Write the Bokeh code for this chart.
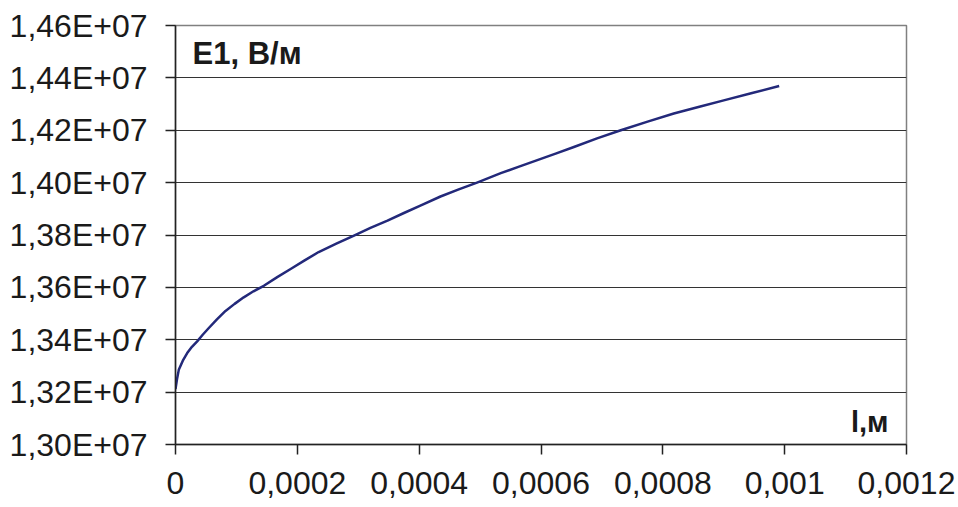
from bokeh.plotting import figure
from bokeh.embed import file_html
from bokeh.resources import INLINE
from bokeh.models import (FixedTicker, CustomJSTickFormatter, Label, Range1d)

# data (length l in m, field E1 in V/m)
l_m = [0, 0.0000025, 0.0000054, 0.000012, 0.0000192, 0.000027, 0.0000356,
       0.000045, 0.0000547, 0.000068, 0.0000821, 0.000097, 0.000112, 0.000128,
       0.000145, 0.000167, 0.000189, 0.000212, 0.000235, 0.000264, 0.000293,
       0.00032, 0.000348, 0.000375, 0.000402, 0.000435, 0.000465, 0.000495,
       0.000534, 0.000564, 0.000594, 0.000624, 0.000654, 0.000692, 0.000731,
       0.000775, 0.000818, 0.00086, 0.0009, 0.000945, 0.000991]
e1 = [1.3212e7, 1.3250e7, 1.3285e7, 1.3320e7, 1.3349e7, 1.3373e7, 1.3394e7,
      1.3420e7, 1.3445e7, 1.3478e7, 1.3510e7, 1.3537e7, 1.3562e7, 1.3585e7,
      1.3606e7, 1.3639e7, 1.3670e7, 1.3703e7, 1.3735e7, 1.3767e7, 1.3798e7,
      1.3827e7, 1.3855e7, 1.3884e7, 1.3912e7, 1.3947e7, 1.3974e7, 1.4000e7,
      1.4036e7, 1.4061e7, 1.4086e7, 1.4111e7, 1.4136e7, 1.4169e7, 1.4200e7,
      1.4233e7, 1.4264e7, 1.4290e7, 1.4314e7, 1.4341e7, 1.4369e7]

x_ticks = [0, 0.0002, 0.0004, 0.0006, 0.0008, 0.001, 0.0012]
y_ticks = [1.30e7, 1.32e7, 1.34e7, 1.36e7, 1.38e7, 1.40e7, 1.42e7, 1.44e7, 1.46e7]

y_title = "E1, В/м"
x_title = "l,м"

FONT = "Liberation Sans"

p = figure(width=958, height=507, output_backend="svg", toolbar_location=None,
           x_range=Range1d(0, 0.0012), y_range=Range1d(1.30e7, 1.46e7),
           min_border_left=175, min_border_right=52, min_border_top=25,
           min_border_bottom=63)

p.line(l_m, e1, line_color="#23297a", line_width=2.5, line_join="round")

p.outline_line_color = "#808080"
p.outline_line_width = 1.5

# axes
for ax in (p.xaxis[0], p.yaxis[0]):
    ax.axis_line_color = "#222222"
    ax.axis_line_width = 1.5
    ax.major_tick_line_color = "#222222"
    ax.major_tick_line_width = 1.5
    ax.major_tick_out = 10
    ax.major_tick_in = 0
    ax.minor_tick_line_color = None
    ax.major_label_text_font = FONT
    ax.major_label_text_font_size = "32px"
    ax.major_label_text_color = "#1a1a1a"

p.xaxis.ticker = FixedTicker(ticks=x_ticks)
p.yaxis.ticker = FixedTicker(ticks=y_ticks)
p.xaxis.major_label_standoff = 17
p.yaxis.major_label_standoff = 18

p.yaxis.formatter = CustomJSTickFormatter(
    code="return (tick/1e7).toFixed(2).replace('.', ',') + 'E+07';")
p.xaxis.formatter = CustomJSTickFormatter(
    code="return parseFloat(tick.toFixed(6)).toString().replace('.', ',');")

p.xgrid.grid_line_color = None
p.ygrid.ticker = FixedTicker(ticks=y_ticks)
p.ygrid.grid_line_color = "#333333"
p.ygrid.grid_line_width = 1.2

p.add_layout(Label(x=17, y=391, x_units="screen", y_units="screen", text=y_title,
                   text_font=FONT, text_font_size="31px", text_font_style="bold",
                   text_baseline="middle", text_color="#1a1a1a"))
p.add_layout(Label(x=713, y=23, x_units="screen", y_units="screen", text=x_title,
                   text_font=FONT, text_font_size="29px", text_font_style="bold",
                   text_baseline="middle", text_align="right", text_color="#1a1a1a"))

open("out.html", "w").write(file_html(p, INLINE))
